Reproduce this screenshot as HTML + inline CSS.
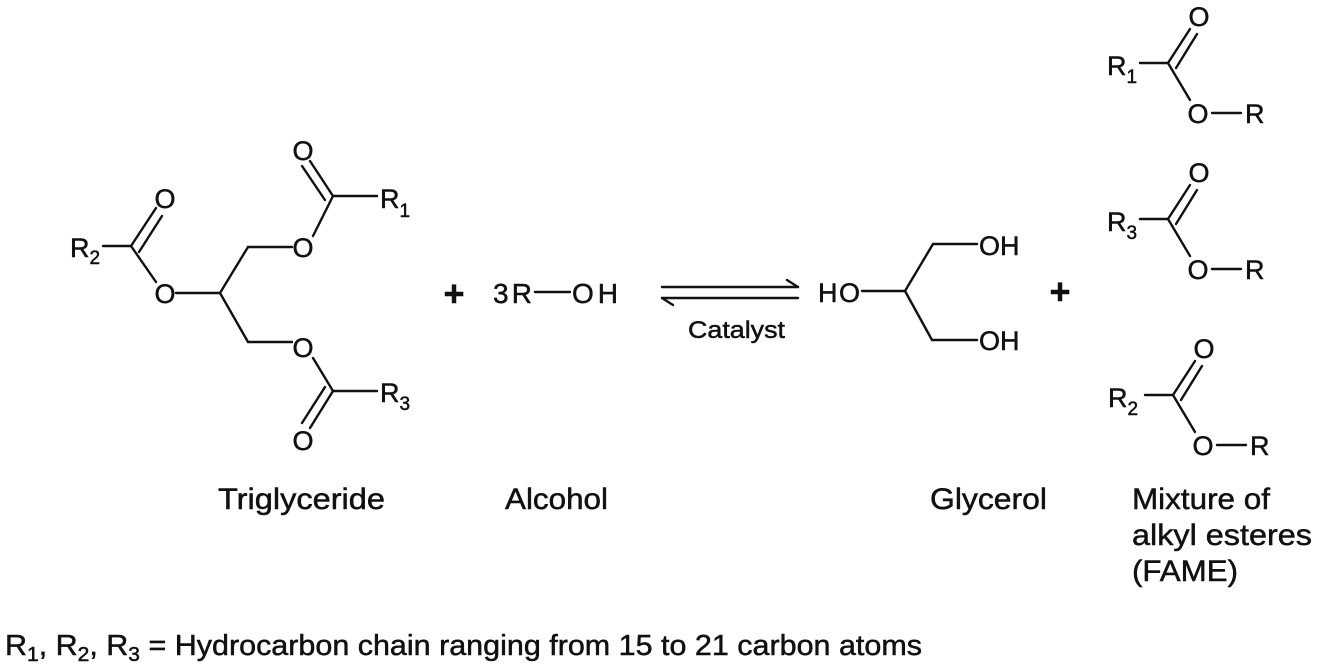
<!DOCTYPE html>
<html><head><meta charset="utf-8"><style>
html,body{margin:0;padding:0;background:#fff;}
svg{display:block;}
text{font-family:"Liberation Sans",Arial,sans-serif;fill:#111;stroke:#111;stroke-width:0.5;}
</style></head><body>
<svg width="1318" height="672" viewBox="0 0 1318 672" xmlns="http://www.w3.org/2000/svg">
<g stroke="#111" stroke-width="2.4" fill="none" stroke-linecap="round">
<line x1="103" y1="246" x2="131" y2="246"/>
<line x1="131" y1="246" x2="156" y2="208"/>
<line x1="139" y1="252" x2="162" y2="216"/>
<line x1="131" y1="246" x2="156" y2="282"/>
<line x1="176" y1="293" x2="220" y2="293"/>
<line x1="220" y1="293" x2="248" y2="247"/>
<line x1="248" y1="247" x2="292" y2="247"/>
<line x1="313" y1="236" x2="333" y2="196"/>
<line x1="333" y1="196" x2="310" y2="161"/>
<line x1="325" y1="200" x2="302" y2="166"/>
<line x1="333" y1="196" x2="377" y2="196"/>
<line x1="220" y1="293" x2="248" y2="342"/>
<line x1="248" y1="342" x2="292" y2="342"/>
<line x1="313" y1="358" x2="333" y2="391"/>
<line x1="333" y1="391" x2="377" y2="391"/>
<line x1="333" y1="391" x2="310" y2="428"/>
<line x1="325" y1="387" x2="302" y2="423"/>
<line x1="535" y1="292" x2="570" y2="292"/>
<line x1="662" y1="287" x2="798" y2="287"/>
<line x1="798" y1="287" x2="787" y2="280"/>
<line x1="662" y1="298" x2="798" y2="298"/>
<line x1="662" y1="298" x2="673" y2="305"/>
<line x1="862" y1="291" x2="905" y2="291"/>
<line x1="905" y1="291" x2="933" y2="244"/>
<line x1="933" y1="244" x2="977" y2="244"/>
<line x1="905" y1="291" x2="932" y2="340"/>
<line x1="932" y1="340" x2="977" y2="340"/>
<g>
<line x1="1140" y1="63" x2="1168" y2="63"/>
<line x1="1168" y1="63" x2="1190" y2="29"/>
<line x1="1176" y1="68" x2="1197" y2="34"/>
<line x1="1168" y1="63" x2="1190" y2="100"/>
<line x1="1212" y1="113" x2="1241" y2="113"/>
</g>
<g transform="translate(0,156)">
<line x1="1140" y1="63" x2="1168" y2="63"/>
<line x1="1168" y1="63" x2="1190" y2="29"/>
<line x1="1176" y1="68" x2="1197" y2="34"/>
<line x1="1168" y1="63" x2="1190" y2="100"/>
<line x1="1212" y1="113" x2="1241" y2="113"/>
</g>
<g transform="translate(5,332)">
<line x1="1140" y1="63" x2="1168" y2="63"/>
<line x1="1168" y1="63" x2="1190" y2="29"/>
<line x1="1176" y1="68" x2="1197" y2="34"/>
<line x1="1168" y1="63" x2="1190" y2="100"/>
<line x1="1212" y1="113" x2="1241" y2="113"/>
</g>
</g>
<g font-size="27" text-anchor="middle">
<text x="165" y="208">O</text>
<text x="165" y="303">O</text>
<text x="303" y="160">O</text>
<text x="303" y="257">O</text>
<text x="303" y="357">O</text>
<text x="303" y="450">O</text>
<text x="1199" y="26">O</text>
<text x="1198" y="123">O</text>
<text x="1199" y="182">O</text>
<text x="1198" y="279">O</text>
<text x="1204" y="358">O</text>
<text x="1203" y="455">O</text>
</g>
<g font-size="27">
<text x="70" y="257">R<tspan font-size="19" dy="7">2</tspan></text>
<text x="380" y="208">R<tspan font-size="19" dy="9">1</tspan></text>
<text x="380" y="402">R<tspan font-size="19" dy="8">3</tspan></text>
<text x="1107" y="75">R<tspan font-size="19" dy="8">1</tspan></text>
<text x="1107" y="231">R<tspan font-size="19" dy="8">3</tspan></text>
<text x="1108" y="407">R<tspan font-size="19" dy="8">2</tspan></text>
<text x="1245" y="123">R</text>
<text x="1245" y="279">R</text>
<text x="1250" y="455">R</text>
<text x="818" y="302" textLength="42">HO</text>
<text x="979" y="255">OH</text>
<text x="979" y="350">OH</text>
</g>
<g font-size="28">
<text x="493" y="303" textLength="39">3R</text>
<text x="572" y="303" textLength="46">OH</text>
</g>
<g font-size="36" font-weight="bold" text-anchor="middle">
<text x="454" y="306">+</text>
<text x="1060" y="304">+</text>
</g>
<text x="688" y="338" font-size="24" textLength="97" lengthAdjust="spacingAndGlyphs">Catalyst</text>
<g font-size="30">
<text x="218" y="509" textLength="167" lengthAdjust="spacingAndGlyphs">Triglyceride</text>
<text x="505" y="509" textLength="103" lengthAdjust="spacingAndGlyphs">Alcohol</text>
<text x="930" y="509" textLength="117" lengthAdjust="spacingAndGlyphs">Glycerol</text>
<text x="1132" y="509" textLength="138" lengthAdjust="spacingAndGlyphs">Mixture of</text>
<text x="1132" y="545" textLength="180" lengthAdjust="spacingAndGlyphs">alkyl esteres</text>
<text x="1132" y="581" textLength="106" lengthAdjust="spacingAndGlyphs">(FAME)</text>
</g>
<text x="5" y="655" font-size="29" textLength="917" lengthAdjust="spacingAndGlyphs">R<tspan font-size="20" dy="6">1</tspan><tspan dy="-6">, R</tspan><tspan font-size="20" dy="6">2</tspan><tspan dy="-6">, R</tspan><tspan font-size="20" dy="6">3</tspan><tspan dy="-6"> = Hydrocarbon chain ranging from 15 to 21 carbon atoms</tspan></text>
</svg>
</body></html>
